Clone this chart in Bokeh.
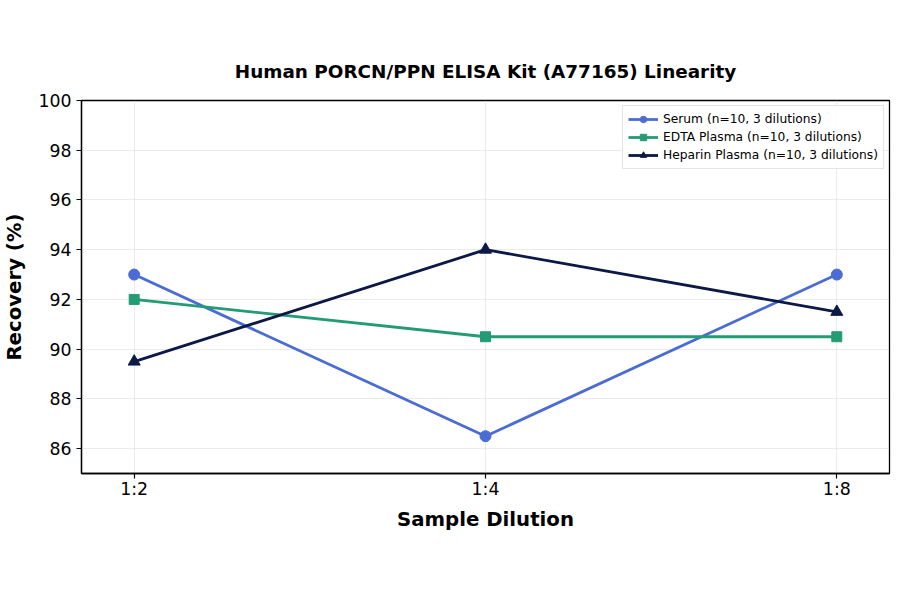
from bokeh.plotting import figure
from bokeh.models import ColumnDataSource, Range1d, FixedTicker, Legend, LegendItem
from bokeh.embed import file_html
from bokeh.resources import INLINE

# data
dilutions = ["1:2", "1:4", "1:8"]
serum = [93.0, 86.5, 93.0]
edta_plasma = [92.0, 90.5, 90.5]
heparin_plasma = [89.5, 94.0, 91.5]
y_ticks = [86, 88, 90, 92, 94, 96, 98, 100]

series = [
    ("Serum (n=10, 3 dilutions)", serum, "#4A6CD4", "circle", 11),
    ("EDTA Plasma (n=10, 3 dilutions)", edta_plasma, "#239B74", "square", 10),
    ("Heparin Plasma (n=10, 3 dilutions)", heparin_plasma, "#0C1846", "triangle", 12),
]

FONT = "DejaVu Sans"

p = figure(frame_width=808, frame_height=373, output_backend="svg", toolbar_location=None,
           x_range=Range1d(-0.15, 2.15), y_range=Range1d(85, 100),
           min_border_left=74, min_border_right=2, min_border_top=100, min_border_bottom=100)
p.background_fill_color = "white"
p.border_fill_color = "white"
p.outline_line_color = "black"
p.outline_line_width = 1.3

p.title.text = "Human PORCN/PPN ELISA Kit (A77165) Linearity"
p.title.align = "center"
p.title.text_font = FONT
p.title.text_font_size = "13.8pt"
p.title.text_font_style = "bold"
p.title.text_color = "black"
p.title.standoff = 38

xs = list(range(len(dilutions)))
items = []
for name, vals, color, marker, size in series:
    src = ColumnDataSource(dict(x=xs, y=vals))
    ln = p.line("x", "y", source=src, line_color=color, line_width=2.8)
    sc = p.scatter("x", "y", source=src, marker=marker, size=size,
                   fill_color=color, line_color=color)
    items.append(LegendItem(label=name, renderers=[ln, sc]))

p.xaxis.ticker = FixedTicker(ticks=xs)
p.xaxis.major_label_overrides = {i: d for i, d in enumerate(dilutions)}
p.yaxis.ticker = FixedTicker(ticks=y_ticks)

for ax in (p.xaxis[0], p.yaxis[0]):
    ax.axis_line_color = "black"
    ax.axis_line_width = 1.3
    ax.major_tick_line_color = "black"
    ax.major_tick_line_width = 1.2
    ax.major_tick_out = 5
    ax.major_tick_in = 0
    ax.minor_tick_line_color = None
    ax.major_label_text_font = FONT
    ax.major_label_text_font_size = "13pt"
    ax.major_label_text_color = "black"
    ax.axis_label_text_font = FONT
    ax.axis_label_text_font_size = "14.8pt"
    ax.axis_label_text_font_style = "bold"
    ax.axis_label_text_color = "black"

p.xaxis.axis_label = "Sample Dilution"
p.yaxis.axis_label = "Recovery (%)"
p.xaxis.major_label_standoff = 0
p.xaxis.axis_label_standoff = 6
p.yaxis.axis_label_standoff = 9

p.xgrid.ticker = FixedTicker(ticks=xs)
p.ygrid.ticker = FixedTicker(ticks=y_ticks)
p.grid.grid_line_color = "#cccccc"
p.grid.grid_line_alpha = 0.5
p.grid.grid_line_width = 0.8

legend = Legend(items=items, location="top_right")
legend.label_text_font = FONT
legend.label_text_font_size = "9.2pt"
legend.label_text_color = "black"
legend.label_height = 16
legend.glyph_height = 16
legend.glyph_width = 30
legend.spacing = 2
legend.padding = 5
legend.margin = 5
legend.border_line_color = "#cccccc"
legend.border_line_width = 1
legend.background_fill_alpha = 0.9
p.add_layout(legend)

open("out.html", "w").write(file_html(p, INLINE))
